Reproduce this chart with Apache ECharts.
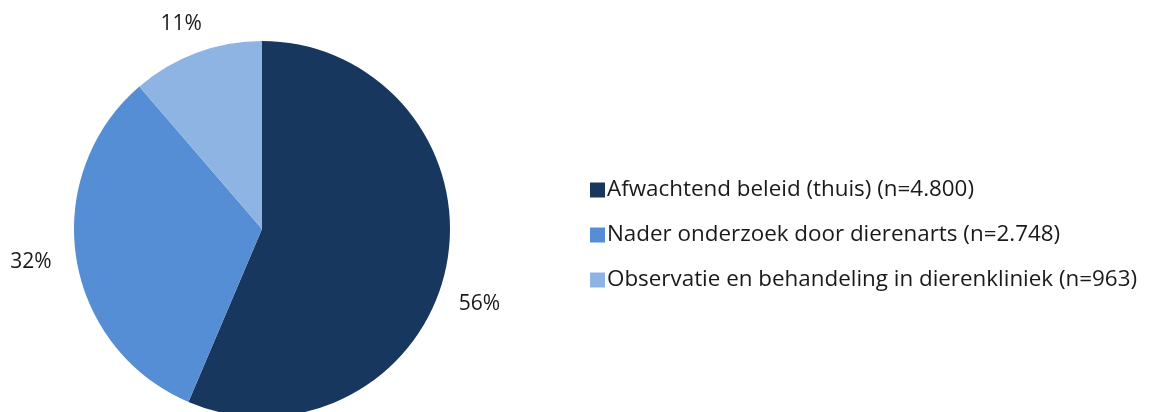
<!DOCTYPE html>
<html>
<head>
<meta charset="utf-8">
<script src="https://cdn.jsdelivr.net/npm/echarts@6/dist/echarts.min.js"></script>
<style>
  html, body { margin: 0; padding: 0; background: #fff; }
  #chart { width: 1155px; height: 412px; }
</style>
</head>
<body>
<div id="chart"></div>
<script>
// data
const categories = [
  'Afwachtend beleid (thuis) (n=4.800)',
  'Nader onderzoek door dierenarts (n=2.748)',
  'Observatie en behandeling in dierenkliniek (n=963)'
]
const counts = [4800, 2748, 963]
const colors = ['#17375E', '#558ED5', '#8EB4E3']

const chart = echarts.init(document.getElementById('chart'))

const fontFamily = '"Open Sans", "Noto Sans", sans-serif'
// nudge the outside labels to where Excel puts them
const labelNudge = [
  { dx: -14, dy: 33 },
  { dx: 2, dy: 1 },
  { dx: 18, dy: -8 }
]

chart.setOption({
  animation: false,
  color: colors,
  legend: {
    orient: 'vertical',
    left: 585,
    top: 173,
    icon: 'rect',
    itemWidth: 15,
    itemHeight: 15,
    itemGap: 21,
    textStyle: {
      fontFamily: fontFamily,
      fontSize: 22.4,
      lineHeight: 24,
      color: '#1a1a1a',
      padding: [0, 0, 0, -3]
    },
    data: categories
  },
  series: [
    {
      type: 'pie',
      center: [262, 229],
      radius: 188,
      startAngle: 90,
      clockwise: true,
      data: categories.map((name, i) => ({ name: name, value: counts[i] })),
      label: {
        show: true,
        position: 'outside',
        overflow: 'none',
        fontFamily: fontFamily,
        fontSize: 21,
        color: '#1a1a1a',
        formatter: (p) => Math.round(p.percent) + '%'
      },
      labelLine: { show: false, length: 22, length2: 0 },
      labelLayout: (params) => labelNudge[params.dataIndex],
      emphasis: { disabled: true }
    }
  ]
})
</script>
</body>
</html>
